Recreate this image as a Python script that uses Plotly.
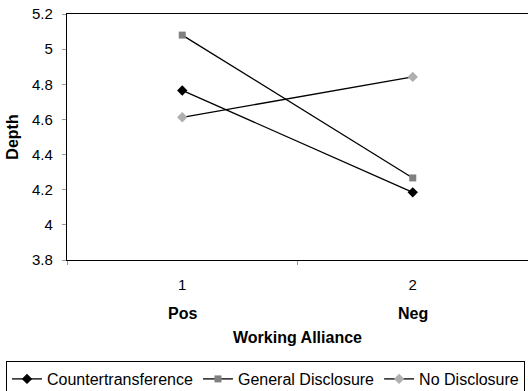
import plotly.graph_objects as go

categories = ["1", "2"]
category_names = ["Pos", "Neg"]
series_names = ["Countertransference", "General Disclosure", "No Disclosure"]
countertransference = [4.765, 4.185]
general_disclosure = [5.08, 4.267]
no_disclosure = [4.612, 4.842]
y_ticks = [3.8, 4.0, 4.2, 4.4, 4.6, 4.8, 5.0, 5.2]
y_tick_labels = ["3.8", "4", "4.2", "4.4", "4.6", "4.8", "5", "5.2"]

FONT = "Liberation Sans, Arial, sans-serif"
styles = [
    dict(symbol="diamond", color="#000000", size=8),
    dict(symbol="square", color="#808080", size=7),
    dict(symbol="diamond", color="#b0b0b0", size=8),
]
values = [countertransference, general_disclosure, no_disclosure]

fig = go.Figure()
for name, vals, st in zip(series_names, values, styles):
    fig.add_trace(go.Scatter(
        x=categories, y=vals, name=name, mode="lines+markers",
        line=dict(color="black", width=1.3),
        marker=dict(symbol=st["symbol"], color=st["color"], size=st["size"],
                    line=dict(width=0)),
    ))

for i, lab in enumerate(category_names):
    fig.add_annotation(x=i, xref="x", y=-53 / 246, yref="paper", text=f"<b>{lab}</b>",
                       showarrow=False, font=dict(family=FONT, size=16, color="black"),
                       yanchor="middle")

# figure is slightly taller than the 391px window so the legend box is cut at the bottom
fig.update_layout(
    width=528, height=410,
    margin=dict(l=67, r=0, t=14, b=150),
    paper_bgcolor="white", plot_bgcolor="white",
    font=dict(family=FONT, size=15, color="black"),
    showlegend=True,
    legend=dict(
        orientation="h",
        x=-61 / 461, y=-101 / 246, xanchor="left", yanchor="top",
        bordercolor="black", borderwidth=1,
        font=dict(family=FONT, size=16, color="black"),
        itemwidth=30, tracegroupgap=0,
    ),
    xaxis=dict(
        type="category", range=[-0.5, 1.5], automargin=False,
        showline=True, linecolor="black", linewidth=1.3, mirror=True,
        showgrid=False, zeroline=False,
        ticks="outside", tickson="boundaries", ticklen=4, tickcolor="#999999",
        ticklabelstandoff=11,
        tickfont=dict(family=FONT, size=15),
        title=dict(text="<b>Working Alliance</b>", font=dict(family=FONT, size=16), standoff=39),
    ),
    yaxis=dict(
        range=[3.8, 5.2], tickvals=y_ticks, ticktext=y_tick_labels, automargin=False,
        showline=True, linecolor="black", linewidth=1.3,
        showgrid=False, zeroline=False,
        ticks="outside", ticklen=4, tickcolor="#999999",
        ticklabelstandoff=6,
        tickfont=dict(family=FONT, size=15),
        title=dict(text="<b>Depth</b>", font=dict(family=FONT, size=16), standoff=9),
    ),
)

fig.write_html("out.html", config={"displayModeBar": False},
               post_script="document.body.style.margin='0';document.body.style.overflow='hidden';")
